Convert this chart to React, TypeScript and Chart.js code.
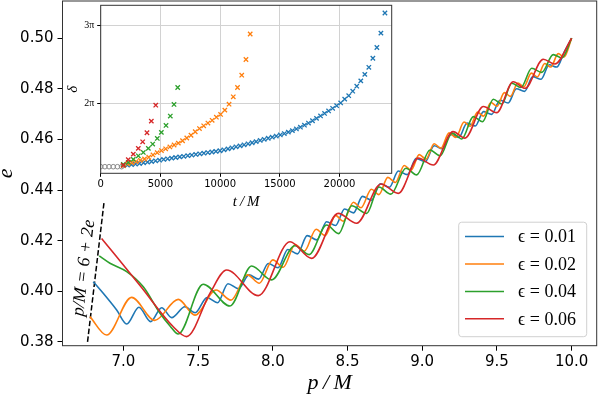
import React, { useEffect, useRef } from "react";
import { Chart, registerables } from "chart.js";

Chart.register(...registerables);

// ---------- main panel data (p/M, e) ----------
const redP = [6.854, 7.111, 7.334, 7.423, 7.579, 7.691, 7.903, 8.115, 8.26, 8.438, 8.561, 8.724, 8.84, 8.974, 9.074, 9.206, 9.286, 9.409, 9.498, 9.609, 9.688, 9.81, 9.888, 10.0];
const redE = [0.4209, 0.4023, 0.386, 0.3821, 0.3992, 0.4084, 0.3983, 0.4196, 0.413, 0.4308, 0.4269, 0.4424, 0.4387, 0.4526, 0.4499, 0.4631, 0.4605, 0.473, 0.4706, 0.4828, 0.4802, 0.4917, 0.4898, 0.5];

const greenP = [6.838, 6.91, 7.022, 7.133, 7.245, 7.312, 7.367, 7.534, 7.713, 7.858, 7.992, 8.148, 8.243, 8.36, 8.44, 8.528, 8.628, 8.71, 8.79, 8.891, 8.963, 9.052, 9.119, 9.2, 9.265, 9.342, 9.403, 9.476, 9.533, 9.599, 9.66, 9.733, 9.8, 9.877, 9.935, 10.0];
const greenE = [0.414, 0.4111, 0.4078, 0.4018, 0.3913, 0.3863, 0.3831, 0.4028, 0.3942, 0.41, 0.4045, 0.418, 0.4145, 0.4262, 0.4228, 0.4338, 0.4308, 0.4412, 0.4384, 0.4486, 0.446, 0.4558, 0.4535, 0.4625, 0.4602, 0.469, 0.467, 0.4759, 0.474, 0.4822, 0.4805, 0.4881, 0.4865, 0.4935, 0.4922, 0.5];

const orangeP = [6.776, 6.888, 7.055, 7.21, 7.367, 7.479, 7.62, 7.72, 7.83, 7.91, 8.0, 8.07, 8.15, 8.21, 8.29, 8.35, 8.42, 8.47, 8.54, 8.59, 8.66, 8.71, 8.77, 8.82, 8.88, 8.925, 8.98, 9.025, 9.08, 9.125, 9.18, 9.225, 9.28, 9.32, 9.37, 9.41, 9.46, 9.5, 9.55, 9.59, 9.64, 9.68, 9.73, 9.77, 9.82, 9.86, 9.91, 9.95, 10.0];
const orangeE = [0.39, 0.3827, 0.3976, 0.3885, 0.3968, 0.3906, 0.4005, 0.3965, 0.4065, 0.4032, 0.4124, 0.4095, 0.4185, 0.4158, 0.4245, 0.422, 0.43, 0.4277, 0.4352, 0.433, 0.4403, 0.4382, 0.445, 0.443, 0.4497, 0.4478, 0.454, 0.4522, 0.4583, 0.4565, 0.4626, 0.4608, 0.4669, 0.4652, 0.4708, 0.4692, 0.4746, 0.4731, 0.4785, 0.477, 0.4823, 0.4808, 0.4862, 0.4847, 0.49, 0.4886, 0.4939, 0.4926, 0.5];

const blueP = [6.798, 6.865, 6.955, 7.022, 7.104, 7.182, 7.256, 7.323, 7.412, 7.48, 7.56, 7.63, 7.7, 7.77, 7.84, 7.905, 7.97, 8.035, 8.1, 8.165, 8.23, 8.295, 8.36, 8.42, 8.48, 8.54, 8.6, 8.66, 8.72, 8.78, 8.84, 8.9, 8.96, 9.02, 9.08, 9.135, 9.19, 9.245, 9.3, 9.355, 9.41, 9.465, 9.52, 9.575, 9.63, 9.685, 9.74, 9.795, 9.85, 9.9, 9.95, 10.0];
const blueE = [0.4038, 0.3992, 0.3926, 0.3871, 0.3937, 0.388, 0.3935, 0.3896, 0.3939, 0.3915, 0.3975, 0.3955, 0.403, 0.401, 0.4065, 0.4048, 0.411, 0.4093, 0.4165, 0.4148, 0.422, 0.4203, 0.4275, 0.426, 0.4325, 0.431, 0.4375, 0.436, 0.4425, 0.4411, 0.4475, 0.4461, 0.4525, 0.4512, 0.4575, 0.4563, 0.462, 0.4608, 0.4665, 0.4653, 0.471, 0.4699, 0.4755, 0.4744, 0.48, 0.479, 0.4848, 0.4838, 0.4895, 0.4886, 0.4945, 0.5];

// separatrix p = 6 + 2e
const sepP = [6.76, 6.87];
const sepE = [0.38, 0.435];

const xTicks = [7.0, 7.5, 8.0, 8.5, 9.0, 9.5, 10.0];
const yTicks = [0.38, 0.4, 0.42, 0.44, 0.46, 0.48, 0.5];
const legendLabels = ["ϵ = 0.01", "ϵ = 0.02", "ϵ = 0.04", "ϵ = 0.06"];

// ---------- inset data (t/M, δ in units of π) ----------
const grayT = [0, 350, 700, 1050, 1400, 1750];
const grayD = [1.2, 1.2, 1.2, 1.2, 1.2, 1.2];

const blueT = [1900, 2237, 2574, 2911, 3248, 3585, 3922, 4259, 4596, 4933, 5270, 5607, 5944, 6281, 6618, 6955, 7292, 7629, 7966, 8303, 8640, 8977, 9314, 9651, 9988, 10325, 10662, 10999, 11336, 11673, 12010, 12347, 12684, 13021, 13358, 13695, 14032, 14369, 14706, 15043, 15380, 15717, 16054, 16391, 16728, 17065, 17402, 17739, 18076, 18413, 18750, 19087, 19424, 19761, 20098, 20435, 20772, 21109, 21446, 21783, 22120, 22457, 22794, 23131, 23468, 23805];
const blueD = [1.215, 1.22, 1.226, 1.233, 1.241, 1.25, 1.258, 1.266, 1.275, 1.283, 1.292, 1.3, 1.309, 1.317, 1.325, 1.332, 1.34, 1.348, 1.356, 1.364, 1.372, 1.38, 1.387, 1.395, 1.403, 1.415, 1.427, 1.44, 1.453, 1.465, 1.478, 1.491, 1.505, 1.519, 1.534, 1.548, 1.562, 1.576, 1.59, 1.604, 1.622, 1.64, 1.659, 1.681, 1.703, 1.728, 1.755, 1.785, 1.815, 1.846, 1.878, 1.91, 1.943, 1.977, 2.012, 2.06, 2.104, 2.161, 2.225, 2.292, 2.375, 2.465, 2.58, 2.717, 2.9, 3.156];

const orangeT = [1900, 2254, 2608, 2962, 3316, 3670, 4024, 4378, 4732, 5086, 5440, 5794, 6148, 6502, 6856, 7210, 7564, 7918, 8272, 8626, 8980, 9334, 9688, 10042, 10396, 10750, 11104, 11458, 11812, 12166, 12520];
const orangeD = [1.215, 1.235, 1.25, 1.265, 1.281, 1.298, 1.32, 1.35, 1.378, 1.405, 1.428, 1.452, 1.476, 1.5, 1.53, 1.565, 1.6, 1.645, 1.685, 1.72, 1.755, 1.79, 1.83, 1.865, 1.92, 1.996, 2.089, 2.208, 2.365, 2.564, 2.889];

const greenT = [1890, 2310, 2730, 3150, 3570, 3990, 4355, 4740, 5080, 5470, 5830, 6140, 6450];
const greenD = [1.23, 1.255, 1.293, 1.339, 1.382, 1.433, 1.488, 1.56, 1.637, 1.725, 1.844, 1.992, 2.208];

const redT = [1890, 2310, 2730, 3150, 3515, 3875, 4240, 4610];
const redD = [1.22, 1.29, 1.36, 1.433, 1.517, 1.632, 1.78, 1.983];

const insetXTicks = [0, 5000, 10000, 15000, 20000];
const insetYTicks = [2, 3];

const C_BLUE = "#1f77b4";
const C_ORANGE = "#ff7f0e";
const C_GREEN = "#2ca02c";
const C_RED = "#d62728";

const zip = (xs: number[], ys: number[]) => {
  const n = Math.min(xs.length, ys.length);
  const out: { x: number; y: number }[] = [];
  for (let i = 0; i < n; i++) out.push({ x: xs[i], y: ys[i] });
  return out;
};

const SERIF = "'Liberation Serif', 'DejaVu Serif', serif";
const SANS = "'DejaVu Sans', sans-serif";

const fixSize = (prop: "width" | "height", size: number) => (s: any) => {
  s[prop] = size;
  s.paddingTop = 0;
  s.paddingBottom = 0;
  s.paddingLeft = 0;
  s.paddingRight = 0;
};

const framePlugin = {
  id: "frame",
  afterDraw(chart: any) {
    const { ctx, chartArea: a } = chart;
    ctx.save();
    ctx.strokeStyle = "#333";
    ctx.lineWidth = 1;
    ctx.strokeRect(a.left, a.top, a.right - a.left, a.bottom - a.top);
    ctx.restore();
  },
};

const insetBgPlugin = {
  id: "insetBg",
  beforeDraw(chart: any) {
    const { ctx, chartArea: a } = chart;
    ctx.save();
    ctx.fillStyle = "#fff";
    ctx.fillRect(a.left, a.top, a.right - a.left, a.bottom - a.top);
    ctx.restore();
  },
};

const mainDecorPlugin = {
  id: "mainDecor",
  afterDraw(chart: any) {
    const { ctx, chartArea: a } = chart;
    const xs = chart.scales.x;
    const ys = chart.scales.y;
    // separatrix label
    const x0 = xs.getPixelForValue(sepP[0]);
    const y0 = ys.getPixelForValue(sepE[0]);
    const x1 = xs.getPixelForValue(sepP[1]);
    const y1 = ys.getPixelForValue(sepE[1]);
    const ang = Math.atan2(y1 - y0, x1 - x0);
    const cx = xs.getPixelForValue(6.736);
    const cy = ys.getPixelForValue(0.4092);
    ctx.save();
    ctx.translate(cx, cy);
    ctx.rotate(ang);
    ctx.fillStyle = "#000";
    ctx.font = `italic 18px ${SERIF}`;
    ctx.textAlign = "center";
    ctx.textBaseline = "middle";
    ctx.fillText("p/M = 6 + 2e", 0, 0);
    ctx.restore();

    // legend
    const w = 128;
    const h = 114.5;
    const right = a.right - 10;
    const bottom = a.bottom - 9;
    const left = right - w;
    const top = bottom - h;
    ctx.save();
    ctx.beginPath();
    const r = 3;
    ctx.moveTo(left + r, top);
    ctx.lineTo(right - r, top);
    ctx.arcTo(right, top, right, top + r, r);
    ctx.lineTo(right, bottom - r);
    ctx.arcTo(right, bottom, right - r, bottom, r);
    ctx.lineTo(left + r, bottom);
    ctx.arcTo(left, bottom, left, bottom - r, r);
    ctx.lineTo(left, top + r);
    ctx.arcTo(left, top, left + r, top, r);
    ctx.closePath();
    ctx.fillStyle = "rgba(255,255,255,0.85)";
    ctx.fill();
    ctx.strokeStyle = "#d0d0d0";
    ctx.lineWidth = 1;
    ctx.stroke();
    const cols = [C_BLUE, C_ORANGE, C_GREEN, C_RED];
    ctx.font = `18px ${SERIF}`;
    ctx.textAlign = "left";
    ctx.textBaseline = "middle";
    for (let i = 0; i < legendLabels.length; i++) {
      const y = top + 14.4 + i * 27.4;
      ctx.strokeStyle = cols[i];
      ctx.lineWidth = 1.5;
      ctx.beginPath();
      ctx.moveTo(left + 6.3, y);
      ctx.lineTo(left + 45.3, y);
      ctx.stroke();
      ctx.fillStyle = "#000";
      ctx.fillText(legendLabels[i], left + 59.3, y + 1);
    }
    ctx.restore();
  },
};

export default function App() {
  const mainRef = useRef<HTMLCanvasElement>(null);
  const insetRef = useRef<HTMLCanvasElement>(null);

  useEffect(() => {
    const lineDs = (label: string, d: any[], color: string, order: number) => ({
      label,
      data: d,
      borderColor: color,
      backgroundColor: color,
      borderWidth: 1.6,
      pointRadius: 0,
      fill: false,
      cubicInterpolationMode: "monotone" as const,
      order,
    });

    const main = new Chart(mainRef.current!, {
      type: "line",
      data: {
        datasets: [
          lineDs(legendLabels[3], zip(redP, redE), C_RED, 0),
          lineDs(legendLabels[2], zip(greenP, greenE), C_GREEN, 1),
          lineDs(legendLabels[1], zip(orangeP, orangeE), C_ORANGE, 2),
          lineDs(legendLabels[0], zip(blueP, blueE), C_BLUE, 3),
          {
            label: "sep",
            data: zip(sepP, sepE),
            borderColor: "#000",
            borderWidth: 1.5,
            borderDash: [5.5, 2.4],
            pointRadius: 0,
            fill: false,
            order: 4,
          } as any,
        ],
      },
      options: {
        responsive: false,
        animation: false,
        devicePixelRatio: 1,
        events: [],
        layout: { padding: { top: 1, right: 1.3, left: 0, bottom: 0 } },
        plugins: { legend: { display: false }, tooltip: { enabled: false } },
        scales: {
          x: {
            type: "linear",
            min: 6.5924,
            max: 10.1677,
            afterBuildTicks: (s: any) => {
              s.ticks = xTicks.map((v) => ({ value: v }));
            },
            afterFit: fixSize("height", 49.3),
            ticks: {
              callback: (v: any) => Number(v).toFixed(1),
              font: { family: SANS, size: 15 },
              color: "#000",
              padding: 2,
              maxRotation: 0,
              autoSkip: false,
            },
            grid: { drawOnChartArea: false, drawTicks: true, tickLength: 5, color: "#000", lineWidth: 1 },
            border: { display: false },
            title: {
              display: true,
              text: "p\u2009/\u2009M",
              font: { family: SERIF, size: 22, style: "italic" },
              color: "#000",
              padding: { top: 0, bottom: -1 },
            },
          },
          y: {
            type: "linear",
            min: 0.3785,
            max: 0.5147,
            afterBuildTicks: (s: any) => {
              s.ticks = yTicks.map((v) => ({ value: v }));
            },
            afterFit: fixSize("width", 62.5),
            ticks: {
              callback: (v: any) => Number(v).toFixed(2),
              font: { family: SANS, size: 15 },
              color: "#000",
              padding: 4,
              autoSkip: false,
            },
            grid: { drawOnChartArea: false, drawTicks: true, tickLength: 5, color: "#000", lineWidth: 1 },
            border: { display: false },
            title: {
              display: true,
              text: "e",
              font: { family: SERIF, size: 22, style: "italic" },
              color: "#000",
              padding: { top: -7, bottom: 0 },
            },
          },
        },
      } as any,
      plugins: [framePlugin, mainDecorPlugin],
    });

    const sc = (label: string, d: any[], color: string, order: number) => ({
      label,
      data: d,
      borderColor: color,
      backgroundColor: color,
      pointStyle: "crossRot",
      pointRadius: 3.1,
      pointBorderWidth: 1.3,
      showLine: false,
      order,
    });

    const inset = new Chart(insetRef.current!, {
      type: "scatter",
      data: {
        datasets: [
          sc("0.06", zip(redT, redD), C_RED, 0),
          sc("0.04", zip(greenT, greenD), C_GREEN, 1),
          sc("0.02", zip(orangeT, orangeD), C_ORANGE, 2),
          sc("0.01", zip(blueT, blueD), C_BLUE, 3),
          {
            label: "early",
            data: zip(grayT, grayD),
            borderColor: "#8a8a8a",
            backgroundColor: "rgba(0,0,0,0)",
            pointStyle: "circle",
            pointRadius: 2.3,
            pointBorderWidth: 1,
            showLine: false,
            order: 4,
          } as any,
        ],
      },
      options: {
        responsive: false,
        animation: false,
        devicePixelRatio: 1,
        events: [],
        layout: { padding: { top: 5, right: 8.3, left: 0, bottom: 0 } },
        plugins: { legend: { display: false }, tooltip: { enabled: false } },
        scales: {
          x: {
            type: "linear",
            min: 0,
            max: 24372,
            afterBuildTicks: (s: any) => {
              s.ticks = insetXTicks.map((v) => ({ value: v }));
            },
            afterFit: fixSize("height", 38.7),
            ticks: {
              callback: (v: any) => String(v),
              font: { family: SANS, size: 10 },
              color: "#000",
              padding: 2,
              maxRotation: 0,
              autoSkip: false,
            },
            grid: { drawOnChartArea: true, drawTicks: true, tickLength: 3.5, color: "#d2d2d2", tickColor: "#000", lineWidth: 1 },
            border: { display: false },
            title: {
              display: true,
              text: "t\u2009/\u2009M",
              font: { family: SERIF, size: 15, style: "italic" },
              color: "#000",
              padding: { top: 0, bottom: 1 },
            },
          },
          y: {
            type: "linear",
            min: 1.116,
            max: 3.254,
            afterBuildTicks: (s: any) => {
              s.ticks = insetYTicks.map((v) => ({ value: v }));
            },
            afterFit: fixSize("width", 40.7),
            ticks: {
              callback: (v: any) => `${v}π`,
              font: { family: SERIF, size: 10 },
              color: "#000",
              padding: 3,
              autoSkip: false,
            },
            grid: { drawOnChartArea: true, drawTicks: true, tickLength: 3.5, color: "#d2d2d2", tickColor: "#000", lineWidth: 1 },
            border: { display: false },
            title: {
              display: true,
              text: "δ",
              font: { family: SERIF, size: 15, style: "italic" },
              color: "#000",
              padding: { top: 4, bottom: 0 },
            },
          },
        },
      } as any,
      plugins: [insetBgPlugin, framePlugin],
    });

    return () => {
      main.destroy();
      inset.destroy();
    };
  }, []);

  return (
    <div style={{ position: "fixed", left: 0, top: 0, width: 598, height: 395, background: "#fff" }}>
      <canvas
        ref={mainRef}
        width={598}
        height={395}
        style={{ position: "absolute", left: 0, top: 0, width: 598, height: 395 }}
      />
      <canvas
        ref={insetRef}
        width={340}
        height={212}
        style={{ position: "absolute", left: 60, top: 0, width: 340, height: 212 }}
      />
    </div>
  );
}
